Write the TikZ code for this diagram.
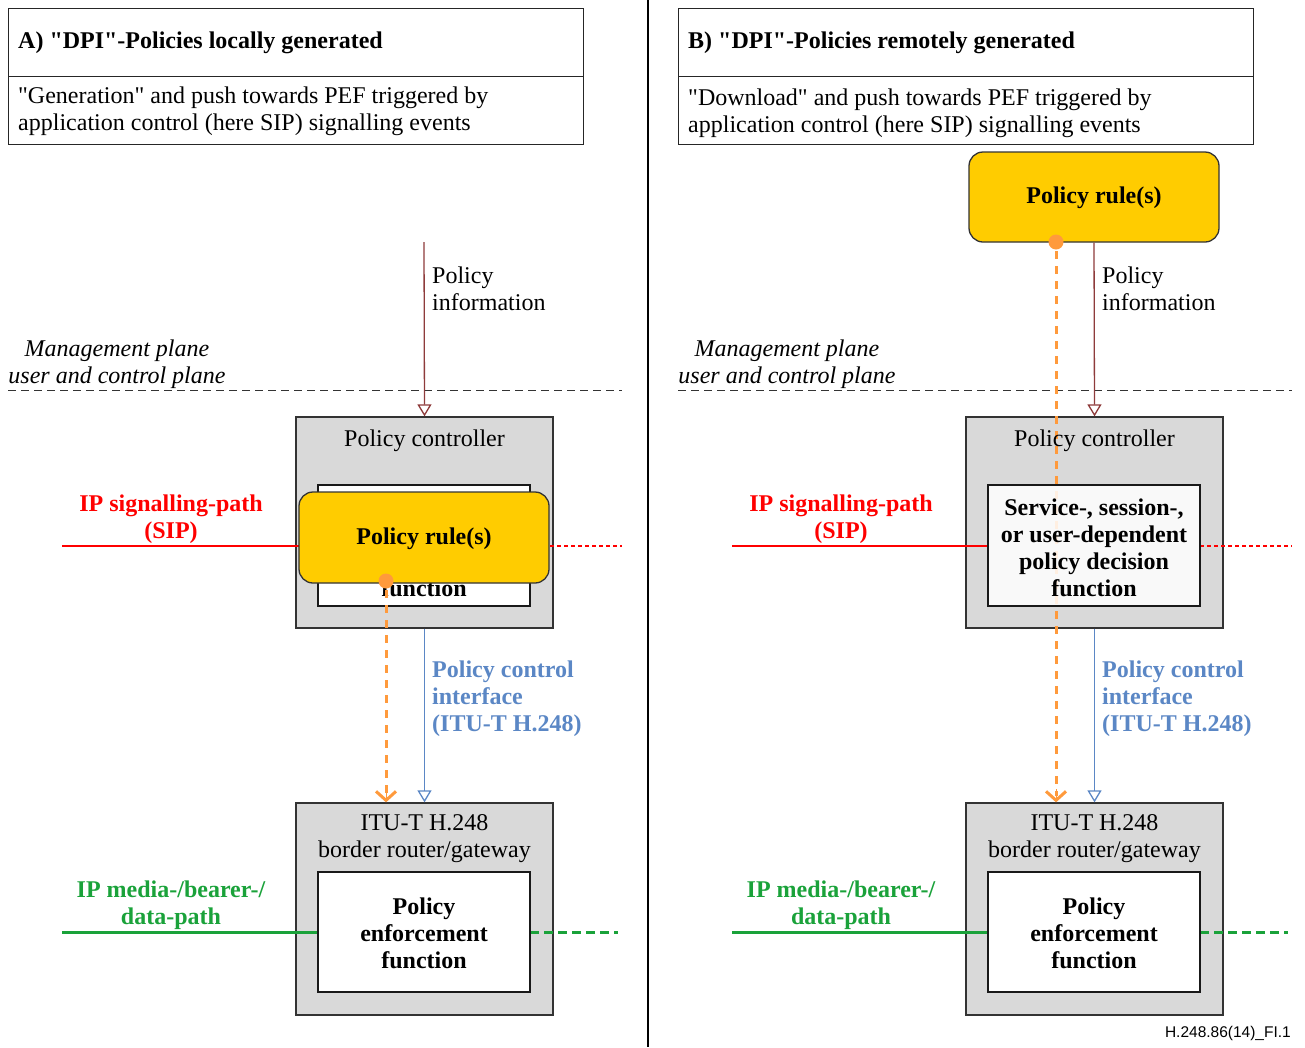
\documentclass[tikz,border=0pt]{standalone}
\usepackage{fontspec}
% serif family loaded without TeX ligatures so that " stays a straight quote
\newfontfamily\serif{Liberation Serif}
\newfontfamily\footfont{Liberation Sans}
\usetikzlibrary{arrows.meta}

\definecolor{boxgray}{HTML}{D9D9D9}
\definecolor{ruleyellow}{HTML}{FFCC00}
\definecolor{pathred}{HTML}{FF0000}
\definecolor{pathgreen}{HTML}{1AA23A}
\definecolor{ctrlblue}{HTML}{5B87C5}
\definecolor{infobrown}{HTML}{8E3B3B}
\definecolor{pushorange}{HTML}{FF9A3C}

\tikzset{
  txt/.style={font=\serif\fontsize{24}{27}\selectfont, inner sep=0pt, align=center},
  btxt/.style={txt, font=\serif\fontsize{24}{27}\selectfont\bfseries},
  ltxt/.style={txt, align=left, anchor=west},
  headbox/.style={draw=black!85, line width=1.3pt, inner sep=0pt},
  graybox/.style={draw=black!80, line width=1.3pt, fill=boxgray, inner sep=0pt},
  whitebox/.style={draw=black!90, line width=1.3pt, fill=white, inner sep=0pt},
  rulebox/.style={draw=black!80, line width=1.3pt, fill=ruleyellow, rounded corners=14pt, inner sep=0pt},
  openarrow/.style={-{Triangle[open,length=12pt,width=14pt]}, line width=1.3pt},
  pushline/.style={pushorange, line width=3pt, dash pattern=on 8pt off 7pt},
  pushtip/.style={-{Straight Barb[length=9pt,width=20pt,line width=3pt]}},
  planeline/.style={black!80, line width=1pt, dash pattern=on 8pt off 5pt},
  sigsolid/.style={pathred, line width=1.8pt},
  sigdotted/.style={pathred, line width=1.8pt, dash pattern=on 4pt off 3pt},
  medsolid/.style={pathgreen, line width=3pt},
  meddashed/.style={pathgreen, line width=3pt, dash pattern=on 9pt off 5pt},
}

\begin{document}
\begin{tikzpicture}[x=1pt,y=-1pt]
\useasboundingbox (0,0) rectangle (1305,1047);

% separator between the two scenarios
\draw[line width=1.2pt] (648,0) -- (648,1047);

% ---------------- headers ----------------
\node[headbox, minimum width=575pt, minimum height=68pt, anchor=north west] (hA) at (8,8) {};
\node[headbox, minimum width=575pt, minimum height=68pt, anchor=north west] (sA) at (8,76) {};
\node[btxt, anchor=west] (hAt) at (18,43) {A) "DPI"-Policies locally generated};
\node[ltxt] (sAt) at (18,111) {"Generation" and push towards PEF triggered by\\application control (here SIP) signalling events};

\node[headbox, minimum width=575pt, minimum height=68pt, anchor=north west] (hB) at (678,8) {};
\node[headbox, minimum width=575pt, minimum height=68pt, anchor=north west] (sB) at (678,76) {};
\node[btxt, anchor=west] (hBt) at (688,43) {B) "DPI"-Policies remotely generated};
\node[ltxt] (sBt) at (688,113) {"Download" and push towards PEF triggered by\\application control (here SIP) signalling events};

% ---------------- plane boundaries ----------------
\coordinate (plA1) at (8,390);
\coordinate (plA2) at (622,390);
\coordinate (plB1) at (678,390);
\coordinate (plB2) at (1292,390);
\draw[planeline] (plA1) -- (plA2);
\draw[planeline] (plB1) -- (plB2);
\node[txt, font=\serif\fontsize{24}{27}\selectfont\itshape] (mpA) at (117,364) {Management plane\\user and control plane};
\node[txt, font=\serif\fontsize{24}{27}\selectfont\itshape] (mpB) at (787,364) {Management plane\\user and control plane};

% ---------------- scenario A ----------------
% policy controller and border router frames
\node[graybox, minimum width=257pt, minimum height=211pt] (pcA) at (424.5,522.5) {};
\node[graybox, minimum width=257pt, minimum height=212pt] (brA) at (424.5,909) {};

% signalling path
\coordinate (sigA0) at (62,546);
\coordinate (sigA1) at (622,546);
\draw[sigsolid] (sigA0) -- (299,546);
\draw[sigdotted] (550,546) -- (sigA1);
\node[btxt, text=pathred] (sigAl) at (171,519) {IP signalling-path\\(SIP)};

% media path
\coordinate (medA0) at (62,932);
\coordinate (medA1) at (618,932);
\draw[medsolid] (medA0) -- (318,932);
\draw[meddashed] (530,932) -- (medA1);
\node[btxt, text=pathgreen] (medAl) at (171,905) {IP media-/bearer-/\\data-path};

% policy controller content
\node[txt] (pcAt) at (424.5,441) {Policy controller};
\node[whitebox, minimum width=212pt, minimum height=121pt] (pdA) at (424,545.5) {};
\node[btxt] (pdAt) at (424,548) {Service-, session-,\\or user-dependent\\policy decision\\function};
\node[rulebox, minimum width=250pt, minimum height=91pt] (prA) at (424,537.5) {};
\node[btxt] (prAt) at (424,539) {Policy rule(s)};

% border router / gateway content
\node[txt] (brAt) at (424.5,838.5) {ITU-T H.248\\border router/gateway};
\node[whitebox, minimum width=212pt, minimum height=120pt] (peA) at (424,932) {};
\node[btxt] (peAt) at (424,933) {Policy\\enforcement\\function};

% policy information into the controller
\coordinate (piA) at (424,242);
\draw[openarrow, infobrown] (piA) -- (pcA.north);
\node[ltxt] (piAl) at (432,289) {Policy\\information};

% policy control interface
\draw[openarrow, ctrlblue] (pcA.south) -- (brA.north);
\node[btxt, align=left, anchor=west, text=ctrlblue] (pciA) at (432,698.5) {Policy control\\interface\\(ITU-T H.248)};

% rule push towards the enforcement function
\coordinate (dotA) at (386,581);
\draw[pushline] (386,590) -- (386,796);
\draw[pushtip, pushorange] (386,789) -- (brA.north -| dotA);
\fill[pushorange] (dotA) circle (7.5pt);

% ---------------- scenario B ----------------
\node[rulebox, minimum width=250pt, minimum height=90pt] (prB) at (1094,197) {};
\node[btxt] (prBt) at (1094,198) {Policy rule(s)};

\node[graybox, minimum width=257pt, minimum height=211pt] (pcB) at (1094.5,522.5) {};
\node[graybox, minimum width=257pt, minimum height=212pt] (brB) at (1094.5,909) {};

\coordinate (sigB0) at (732,546);
\coordinate (sigB1) at (1292,546);
\draw[sigsolid] (sigB0) -- (988,546);
\draw[sigdotted] (1200,546) -- (sigB1);
\node[btxt, text=pathred] (sigBl) at (841,519) {IP signalling-path\\(SIP)};

\coordinate (medB0) at (732,932);
\coordinate (medB1) at (1288,932);
\draw[medsolid] (medB0) -- (988,932);
\draw[meddashed] (1200,932) -- (medB1);
\node[btxt, text=pathgreen] (medBl) at (841,905) {IP media-/bearer-/\\data-path};

\coordinate (dotB) at (1056,242);
\draw[pushline] (1056,251) -- (1056,796);
\node[txt] (pcBt) at (1094.5,441) {Policy controller};
\node[whitebox, fill opacity=0.85, text opacity=1, minimum width=212pt, minimum height=121pt] (pdB) at (1094,545.5) {};
\node[btxt] (pdBt) at (1094,548) {Service-, session-,\\or user-dependent\\policy decision\\function};

\node[txt] (brBt) at (1094.5,838.5) {ITU-T H.248\\border router/gateway};
\node[whitebox, minimum width=212pt, minimum height=120pt] (peB) at (1094,932) {};
\node[btxt] (peBt) at (1094,933) {Policy\\enforcement\\function};

\draw[openarrow, infobrown] (prB.south) -- (pcB.north);
\node[ltxt] (piBl) at (1102,289) {Policy\\information};

\draw[openarrow, ctrlblue] (pcB.south) -- (brB.north);
\node[btxt, align=left, anchor=west, text=ctrlblue] (pciB) at (1102,698.5) {Policy control\\interface\\(ITU-T H.248)};

\draw[pushtip, pushorange] (1056,789) -- (brB.north -| dotB);
\fill[pushorange] (dotB) circle (7.5pt);

% figure identifier
\node[font=\footfont\fontsize{15.5}{17}\selectfont, anchor=east, inner sep=0pt] (figid) at (1291,1033) {H.248.86(14)\_FI.1};
\end{tikzpicture}
\end{document}
